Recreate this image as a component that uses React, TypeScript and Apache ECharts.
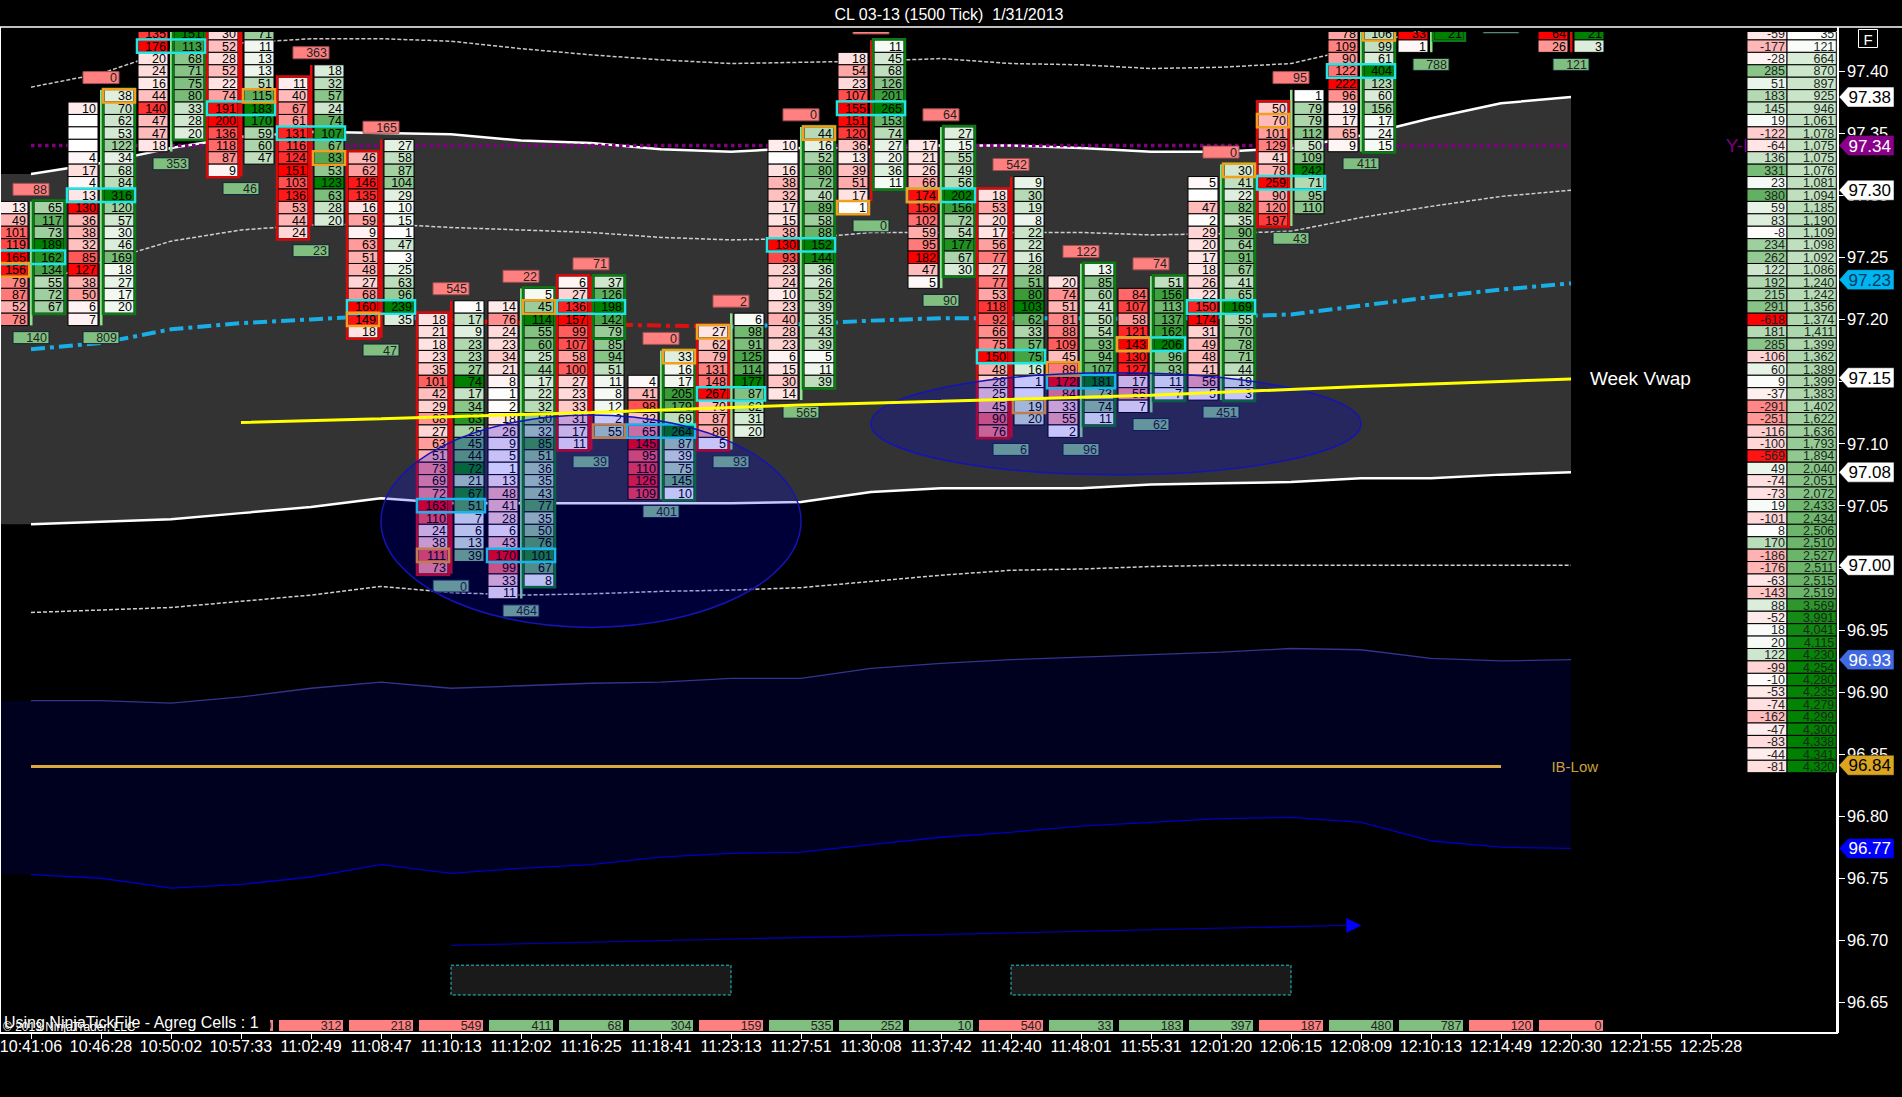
import React, { useEffect, useRef } from "react";
import * as echarts from "echarts";

const times = ["10:41:06","10:46:28","10:50:02","10:57:33","11:02:49","11:08:47","11:10:13","11:12:02","11:16:25","11:18:41","11:23:13","11:27:51","11:30:08","11:37:42","11:42:40","11:48:01","11:55:31","12:01:20","12:06:15","12:08:09","12:10:13","12:14:49","12:20:30","12:21:55","12:25:28"];
const priceTicks = [96.65,96.7,96.75,96.8,96.85,96.9,96.95,97,97.05,97.1,97.15,97.2,97.25,97.3,97.35,97.4];

const bidTop = [97.29,97.37,97.43,97.43,97.39,97.33,97.20,97.21,97.23,97.15,97.19,97.34,97.41,97.34,97.30,97.23,97.22,97.31,97.37,97.43,97.43,97.45,97.43];
const askTop = [97.29,97.38,97.43,97.43,97.40,97.34,97.21,97.22,97.23,97.17,97.20,97.35,97.42,97.35,97.31,97.24,97.23,97.32,97.38,97.43,97.43,97.45,97.43];

const bids0 = [13,49,101,119,165,156,79,87,52,78];
const asks0 = [65,117,73,189,162,134,55,72,67];
const bids1 = [10,null,null,null,4,17,4,13,130,36,38,32,85,127,38,50,6,7];
const asks1 = [38,70,62,53,122,34,68,84,316,120,57,30,46,169,18,27,17,20];
const bids2 = [135,176,20,24,16,44,140,47,47,18];
const asks2 = [151,113,68,71,75,80,33,28,20];
const bids3 = [30,52,28,52,22,74,191,200,136,118,87,9];
const asks3 = [71,11,13,13,51,115,183,170,59,60,47];
const bids4 = [11,40,67,61,131,116,124,151,103,136,53,44,24];
const asks4 = [18,32,57,24,74,107,67,83,53,123,63,28,20];
const bids5 = [46,62,146,135,16,59,9,63,51,48,27,68,160,149,18];
const asks5 = [27,58,87,104,29,10,15,1,47,3,25,63,96,239,35];
const bids6 = [18,21,18,23,35,101,42,29,68,27,63,51,73,69,72,163,110,24,38,111,73];
const asks6 = [1,17,9,23,23,27,74,17,34,63,25,45,44,72,21,67,51,7,6,13,39];
const bids7 = [14,76,24,23,34,21,8,1,2,18,26,9,5,1,13,48,41,28,6,43,170,99,33,11];
const asks7 = [5,45,114,55,60,25,44,17,22,32,50,32,85,51,36,35,43,77,35,50,76,101,67,8];
const bids8 = [6,27,136,157,99,107,58,100,27,23,33,31,17,11];
const asks8 = [37,126,198,142,79,85,94,51,11,8,12,2,55];
const bids9 = [4,41,98,32,65,145,95,110,126,109];
const asks9 = [33,16,17,205,179,69,264,87,39,75,145,10];
const bids10 = [27,62,79,131,148,267,70,87,86,5];
const asks10 = [6,98,91,125,114,177,87,62,31,20];
const bids11 = [10,null,16,38,32,17,15,38,130,93,23,24,10,23,40,28,23,6,15,30,14];
const asks11 = [44,16,52,80,72,40,89,58,88,152,144,36,26,52,39,35,43,39,5,11,39];
const bids12 = [18,54,23,107,155,151,120,36,13,39,51,17,1];
const asks12 = [11,45,68,126,201,265,153,74,27,20,36,11];
const bids13 = [17,21,26,66,174,156,102,59,95,182,47,5];
const asks13 = [27,15,55,49,56,202,156,72,54,177,67,30];
const bids14 = [18,53,20,17,56,77,27,77,53,118,92,66,75,150,48,28,25,45,90,76];
const asks14 = [9,30,19,8,22,22,16,28,51,80,103,62,33,57,75,16,1,null,19,20];
const bids15 = [20,74,51,81,88,109,45,89,172,84,33,55,2];
const asks15 = [13,85,60,41,50,54,93,94,107,181,73,74,11];
const bids16 = [84,107,58,121,143,130,127,17,55,7];
const asks16 = [51,156,113,137,162,206,96,93,11,7];
const bids17 = [5,null,47,2,29,20,17,18,26,22,150,174,31,49,48,41,56,5];
const asks17 = [30,41,22,82,35,90,64,91,67,41,65,169,55,70,78,71,44,19,3];
const bids18 = [50,70,101,129,41,78,259,90,120,197];
const asks18 = [1,79,79,112,50,109,242,71,95,110];
const bids19 = [78,109,90,122,222,96,19,17,65,9];
const asks19 = [106,99,61,404,123,60,156,17,24,15];
const bids20 = [33,1];
const asks20 = [21];
const bids21 = [12];
const asks21 = [12];
const bids22 = [64,26];
const asks22 = [21,3];
const allBids = [bids0,bids1,bids2,bids3,bids4,bids5,bids6,bids7,bids8,bids9,bids10,bids11,bids12,bids13,bids14,bids15,bids16,bids17,bids18,bids19,bids20,bids21,bids22];
const allAsks = [asks0,asks1,asks2,asks3,asks4,asks5,asks6,asks7,asks8,asks9,asks10,asks11,asks12,asks13,asks14,asks15,asks16,asks17,asks18,asks19,asks20,asks21,asks22];

const highBoxes = [88,0,null,null,363,165,545,22,71,0,2,0,92,64,542,122,74,0,95,null,null,null,null];
const lowBoxes = [140,809,353,46,23,47,0,464,39,401,93,565,0,90,6,96,62,451,43,411,788,0,121];
const bottomCats = [3,4,5,6,7,8,9,10,11,12,13,14,15,16,17,18,19,20,21,22];
const bottomValues = [0,312,218,549,411,68,304,159,535,252,10,540,33,183,397,187,480,787,120,0];
const bottomSigns = [0,0,0,0,1,1,1,0,1,1,1,0,1,1,1,0,1,1,0,0];

const pocPrices = [97.25,97.30,97.42,97.37,97.35,97.21,97.05,97.01,97.21,97.11,97.14,97.26,97.37,97.30,97.17,97.15,97.18,97.21,97.31,97.40];
const orangeSides = [0,1,-1,1,1,0,0,1,1,1,0,1,0,0,1,0,0,1,0,1];
const orangePrices = [97.24,97.38,0,97.38,97.33,97.20,97.01,97.21,97.11,97.17,97.19,97.35,97.29,97.30,97.13,97.16,97.18,97.32,97.36,97.43];

const wickCats = [0,1,2,3,4,5,6,7,8,9,10,11,12,13,14,15,16,17,18,19,20,22];
const wickHigh = [97.29,97.38,97.43,97.43,97.40,97.34,97.21,97.22,97.23,97.17,97.20,97.35,97.42,97.35,97.31,97.24,97.23,97.32,97.38,97.43,97.43,97.43];
const wickLow = [97.20,97.20,97.34,97.32,97.28,97.19,97.00,96.98,97.10,97.06,97.10,97.14,97.30,97.23,97.11,97.11,97.13,97.14,97.28,97.34,97.42,97.42];
const wickUp = [1,1,1,0,0,0,0,1,0,1,1,1,0,1,0,1,1,1,1,1,1,0];

const outlineCats = [0,1,2,3,4,5,6,7,8,8,9,10,11,12,13,14,15,16,17,18,19,20];
const outlineSides = [1,1,1,0,0,0,0,1,0,1,1,0,1,1,1,0,1,1,1,0,1,1];
const outlineHigh = [97.29,97.38,97.43,97.43,97.39,97.33,97.20,97.22,97.23,97.23,97.17,97.19,97.35,97.42,97.35,97.30,97.24,97.23,97.32,97.37,97.43,97.43];
const outlineLow = [97.21,97.21,97.35,97.32,97.27,97.19,97.00,96.99,97.10,97.19,97.06,97.10,97.15,97.31,97.24,97.11,97.12,97.14,97.14,97.28,97.34,97.43];

const profilePrices = [97.43,97.42,97.41,97.40,97.39,97.38,97.37,97.36,97.35,97.34,97.33,97.32,97.31,97.30,97.29,97.28,97.27,97.26,97.25,97.24,97.23,97.22,97.21,97.20,97.19,97.18,97.17,97.16,97.15,97.14,97.13,97.12,97.11,97.10,97.09,97.08,97.07,97.06,97.05,97.04,97.03,97.02,97.01,97.00,96.99,96.98,96.97,96.96,96.95,96.94,96.93,96.92,96.91,96.90,96.89,96.88,96.87,96.86,96.85,96.84];
const profileDelta = [-59,-177,-28,285,51,183,145,19,-122,-64,136,331,23,380,59,83,-8,234,262,122,192,215,291,-618,181,285,-106,60,9,-37,-291,-251,-116,-100,-569,49,-74,-73,19,-101,8,170,-186,-176,-63,-143,88,-52,18,20,122,-99,-10,-53,-74,-162,-47,-83,-44,-81];
const profileVolume = [35,121,664,870,897,925,946,1061,1078,1075,1075,1076,1081,1094,1185,1190,1109,1098,1092,1086,1240,1242,1356,1374,1411,1399,1362,1389,1399,1383,1402,1622,1636,1793,1894,2040,2051,2072,2433,2434,2506,2510,2527,2511,2515,2519,3569,3991,4041,4115,4230,4254,4280,4235,4279,4299,4300,4338,4341,4320];

const upperThin = [97.387,97.398,97.417,97.4225,97.426,97.426,97.424,97.418,97.413,97.409,97.406,97.407,97.408,97.410,97.406,97.405,97.402,97.403,97.406,97.419,97.435,97.445,97.451];
const upperSolid = [97.317,97.326,97.338,97.347,97.351,97.350,97.349,97.344,97.342,97.337,97.335,97.338,97.339,97.340,97.340,97.338,97.335,97.335,97.338,97.348,97.362,97.374,97.379];
const upperMid = [97.228,97.246,97.263,97.272,97.276,97.277,97.274,97.272,97.270,97.266,97.264,97.265,97.270,97.270,97.270,97.270,97.268,97.269,97.271,97.282,97.291,97.299,97.304];
const vwap = [97.176,97.181,97.192,97.197,97.200,97.203,97.199,97.197,97.196,97.195,97.194,97.196,97.199,97.201,97.201,97.201,97.200,97.202,97.204,97.211,97.218,97.224,97.229];
const lowerSolid = [97.035,97.037,97.039,97.044,97.049,97.056,97.052,97.052,97.052,97.052,97.052,97.053,97.061,97.064,97.064,97.064,97.067,97.068,97.069,97.072,97.072,97.075,97.077];
const lowerThin = [96.964,96.966,96.968,96.973,96.978,96.985,96.980,96.978,96.979,96.981,96.982,96.984,96.989,96.994,96.998,96.999,97.001,97.002,97.002,97.002,97.002,97.002,97.002];
const navyTop = [96.893,96.893,96.891,96.896,96.903,96.908,96.903,96.905,96.907,96.908,96.911,96.911,96.919,96.923,96.926,96.928,96.930,96.932,96.935,96.934,96.927,96.925,96.926];
const navyBottom = [96.753,96.750,96.742,96.745,96.751,96.761,96.754,96.758,96.761,96.767,96.770,96.771,96.777,96.783,96.787,96.792,96.795,96.798,96.799,96.795,96.780,96.775,96.774];
const weekVwapCats = [3,5,8,11,13,16,19,22];
const weekVwapPrices = [97.117,97.120,97.125,97.131,97.134,97.139,97.146,97.152];

const flagPrices = [97.379,97.34,97.304,97.232,97.153,97.077,97.002,96.926,96.841,96.774];
const flagFills = ["#ffffff","#8b008b","#ffffff","#00b4f0","#ffffff","#ffffff","#ffffff","#4169e1","#daa520","#0000ff"];
const flagInks = ["#000000","#ffffff","#000000","#003a60","#000000","#000000","#000000","#ffffff","#000000","#ffffff"];

const X_MIN = -0.5;
const X_MAX = 25.8;
const SHIFT = 4;
const Y_MIN = 96.6254;
const Y_MAX = 97.4314;
const ROW = 0.01;
const FONT = '"Liberation Sans", Arial, sans-serif';
const CELL_FONT = 12.5;

function redOf(t: number) { const c = Math.round(255 * (1 - Math.min(1, t))); return `rgb(255,${c},${c})`; }
function greenOf(t: number) { const k = Math.min(1, t); const c = Math.round(255 * (1 - k)); return `rgb(${c},${Math.round(255 - 127 * k)},${c})`; }
const maxOf = (a: (number | null)[]) => Math.max(1, ...a.map((v) => v ?? 0));

const cellRows: number[][] = [];
allBids.forEach((list, cat) => {
  const m = maxOf(list);
  list.forEach((v, i) => cellRows.push([cat, +(bidTop[cat] - i * ROW).toFixed(2), v ?? -1, 0, (v ?? 0) / m]));
});
allAsks.forEach((list, cat) => {
  const m = maxOf(list);
  list.forEach((v, i) => cellRows.push([cat, +(askTop[cat] - i * ROW).toFixed(2), v ?? -1, 1, (v ?? 0) / m]));
});

const barHigh = (c: number) => Math.max(bidTop[c], askTop[c]);
const barLow = (c: number) => Math.min(bidTop[c] - (allBids[c].length - 1) * ROW, askTop[c] - (allAsks[c].length - 1) * ROW);
const boxRows: number[][] = [];
highBoxes.forEach((v, c) => { if (v !== null) boxRows.push([c, barHigh(c) + 1.47 * ROW, v, 0, 0]); });
lowBoxes.forEach((v, c) => { if (v !== null) boxRows.push([c, barLow(c) - 1.47 * ROW, v, 1, 0]); });
bottomCats.forEach((c, i) => boxRows.push([c, 96.6315, bottomValues[i], bottomSigns[i], 1]));

const txt = (x: number, y: number, text: string, fill: string, size: number, align = "right") => ({
  type: "text",
  style: { x, y, text, fill, font: `${size}px ${FONT}`, textAlign: align, textVerticalAlign: "middle" },
});

function renderCell(_: any, api: any) {
  const cat = api.value(0), price = api.value(1), val = api.value(2), side = api.value(3), t = api.value(4);
  const [x, y] = api.coord([cat, price]);
  const h = api.size([0, ROW])[1];
  const x0 = side === 0 ? x - 33 : x + 3;
  const w = 30;
  const children: any[] = [{
    type: "rect",
    shape: { x: x0, y: y - h / 2, width: w, height: h },
    style: { fill: side === 0 ? redOf(t) : greenOf(t), stroke: "#000", lineWidth: 1 },
  }];
  if (val >= 0) children.push(txt(x0 + w - 2, y + 0.5, String(val), "#000", CELL_FONT));
  return { type: "group", children };
}
function renderBox(_: any, api: any) {
  const [x, y] = api.coord([api.value(0), api.value(1)]);
  const v = api.value(2), up = api.value(3) === 1;
  const wide = api.value(4) === 1;
  const hw = wide ? 32.5 : 18;
  return {
    type: "group",
    children: [
      { type: "rect", shape: { x: x - hw, y: y - 6, width: hw * 2, height: 12 },
        style: { fill: up ? "#80bf80" : "#ff8080", stroke: wide ? "#000" : up ? "#123" : "#a05050", lineWidth: 1 } },
      txt(x + hw - 2, y + 0.5, String(v), "#222", CELL_FONT),
    ],
  };
}
function renderWick(_: any, api: any) {
  const [x, y1] = api.coord([api.value(0), api.value(1)]);
  const [, y2] = api.coord([api.value(0), api.value(2)]);
  return { type: "rect", shape: { x: x - 1, y: y1 - 6, width: 2.5, height: y2 - y1 + 12 },
    style: { fill: api.value(3) === 1 ? "#8fe28f" : "#e00d0d" } };
}
function renderOutline(_: any, api: any) {
  const [x, y1] = api.coord([api.value(0), api.value(2)]);
  const [, y2] = api.coord([api.value(0), api.value(3)]);
  const side = api.value(1);
  const x0 = side === 0 ? x - 33 : x + 3;
  return { type: "rect", shape: { x: x0 - 1, y: y1 - 7, width: 32, height: y2 - y1 + 14 },
    style: { fill: "none", stroke: side === 0 ? "#d40a0a" : "#0c7a14", lineWidth: 2.5 } };
}
function renderPoc(_: any, api: any) {
  const [x, y] = api.coord([api.value(0), api.value(1)]);
  return { type: "rect", shape: { x: x - 34, y: y - 6.7, width: 68, height: 13.4 },
    style: { fill: "none", stroke: "#22e6e6", lineWidth: 2.5 } };
}
function renderOrange(_: any, api: any) {
  const [x, y] = api.coord([api.value(0), api.value(1)]);
  const x0 = api.value(2) === 0 ? x - 34 : x + 2;
  return { type: "rect", shape: { x: x0, y: y - 6.7, width: 32, height: 13.4 },
    style: { fill: "none", stroke: "#f0a020", lineWidth: 2.5 } };
}
const PROFILE_A = 24.514, PROFILE_B = 25.086, PROFILE_C = 25.79;
function renderProfile(_: any, api: any) {
  const price = api.value(0), delta = api.value(1), vol = api.value(2);
  const [xa, y] = api.coord([PROFILE_A, price]);
  const [xb] = api.coord([PROFILE_B, price]);
  const [xc] = api.coord([PROFILE_C, price]);
  const h = api.size([0, ROW])[1];
  const t = Math.abs(delta) / 618;
  return {
    type: "group",
    children: [
      { type: "rect", shape: { x: xa, y: y - h / 2, width: xb - xa, height: h },
        style: { fill: delta < 0 ? redOf(t) : greenOf(t), stroke: "#000", lineWidth: 1 } },
      txt(xb - 2, y + 0.5, String(delta), "#222", CELL_FONT),
      { type: "rect", shape: { x: xb, y: y - h / 2, width: xc - xb, height: h },
        style: { fill: greenOf(vol / 4341), stroke: "#000", lineWidth: 1 } },
      txt(xc - 2, y + 0.5, vol.toLocaleString("en-US"), "#1a2a1a", CELL_FONT),
    ],
  };
}
function renderFlag(_: any, api: any) {
  const i = api.value(0), price = api.value(1);
  const [ax, y] = api.coord([X_MAX, price]);
  const x = ax + 1;
  return {
    type: "group",
    children: [
      { type: "polygon", shape: { points: [[x + 1, y], [x + 10, y - 10], [x + 56, y - 10], [x + 56, y + 10], [x + 10, y + 10]] },
        style: { fill: flagFills[i], stroke: "#000", lineWidth: 0.5 } },
      txt(x + 53, y + 0.5, price.toFixed(2), flagInks[i], 17),
    ],
  };
}
function polyThrough(api: any, top: number[], bottom: number[], fill: string) {
  const cats = [X_MIN, ...top.map((_, i) => i)];
  const t = [top[0], ...top], b = [bottom[0], ...bottom];
  const pts: number[][] = cats.map((c, i) => api.coord([c, t[i]]));
  for (let i = cats.length - 1; i >= 0; i--) pts.push(api.coord([cats[i], b[i]]));
  return { type: "polygon", shape: { points: pts }, style: { fill } };
}
function renderBands(_: any, api: any) {
  return { type: "group", children: [
    polyThrough(api, upperSolid, lowerSolid, "#333333"),
    polyThrough(api, navyTop, navyBottom, "#00001f"),
  ] };
}
const darkBoxes = [[6, 10], [14, 18]];
function renderDarkBox(_: any, api: any) {
  const [x1, y1] = api.coord([api.value(0), 96.680]);
  const [x2, y2] = api.coord([api.value(1), 96.656]);
  return { type: "rect", shape: { x: x1, y: y1, width: x2 - x1, height: y2 - y1 },
    style: { fill: "#1a1a1a", stroke: "#25c8c8", lineWidth: 1, lineDash: [3, 2] } };
}
const ellipses = [[5, 11, 97.123, 96.952], [12, 19, 97.157, 97.075]];
function renderEllipse(_: any, api: any) {
  const [x1, y1] = api.coord([api.value(0), api.value(2)]);
  const [x2, y2] = api.coord([api.value(1), api.value(3)]);
  return { type: "ellipse", shape: { cx: (x1 + x2) / 2, cy: (y1 + y2) / 2, rx: (x2 - x1) / 2, ry: (y2 - y1) / 2 },
    style: { fill: "rgba(0,0,255,0.22)", stroke: "#1414b4", lineWidth: 1.5 } };
}
function renderArrowHead(_: any, api: any) {
  const [x, y] = api.coord([18.79, 96.712]);
  return { type: "polygon", shape: { points: [[x, y - 7.5], [x + 15, y], [x, y + 7.5]] }, style: { fill: "#0000ff" } };
}
const notes: [number, number, string, string, number][] = [
  [22.27, 97.152, "Week Vwap", "#ffffff", 19],
  [21.72, 96.84, "IB-Low", "#c9a03a", 15],
  [24.21, 97.34, "Y-L", "#800080", 19],
];
function renderNote(_: any, api: any) {
  const n = notes[api.value(0)];
  const [x, y] = api.coord([n[0], n[1]]);
  return txt(x, y, n[2], n[3], n[4], "left");
}

const lineOf = (name: string, values: any[], color: string, width: number, type: any, z: number) => ({
  type: "line", name, data: values.map((v, i) => [i, v]), symbol: "none", silent: true, z, clip: true,
  connectNulls: false, lineStyle: { color, width, type }, emphasis: { disabled: true },
});
const custom = (name: string, data: any[], renderItem: any, z: number, clip = true) => ({
  type: "custom", name, data, renderItem, z, clip, silent: true,
});

export default function App() {
  const ref = useRef<HTMLDivElement>(null);
  useEffect(() => {
    const chart = echarts.init(ref.current!, undefined, { renderer: "svg" });
    const blue = vwap.map((v, i) => (i > 6 && i < 10 ? null : v));
    const red = vwap.map((v, i) => (i >= 6 && i <= 10 ? v : null));
    chart.setOption({
      animation: false,
      backgroundColor: "#000000",
      title: {
        text: "CL 03-13 (1500 Tick)  1/31/2013", left: 944 + SHIFT, top: 1, textAlign: "center",
        textStyle: { color: "#ffffff", fontSize: 16, fontWeight: "normal", fontFamily: FONT },
      },
      grid: { left: 0, top: 32, width: 1841, height: 1001, containLabel: false },
      xAxis: {
        type: "value", min: X_MIN, max: X_MAX, splitLine: { show: false },
        axisLine: { show: true, onZero: false, lineStyle: { color: "#ffffff", width: 2 } },
        axisTick: { show: true, length: 6, inside: false, customValues: times.map((_, i) => i), lineStyle: { color: "#ffffff", width: 1 } },
        axisLabel: {
          color: "#ffffff", fontSize: 16, fontFamily: FONT, margin: 5, hideOverlap: false,
          customValues: times.map((_, i) => i),
          formatter: (v: number) => times[Math.round(v)] ?? "",
        },
      },
      yAxis: {
        type: "value", position: "right", min: Y_MIN, max: Y_MAX, splitLine: { show: false },
        axisLine: { show: true, onZero: false, lineStyle: { color: "#ffffff", width: 2 } },
        axisTick: { show: true, length: 8, customValues: priceTicks, lineStyle: { color: "#ffffff", width: 1 } },
        axisLabel: {
          color: "#ffffff", fontSize: 16.5, fontFamily: FONT, margin: 10, hideOverlap: false,
          customValues: priceTicks, formatter: (v: number) => v.toFixed(2),
        },
      },
      series: [
        custom("bands", [[0, 0]], renderBands, 1),
        lineOf("upper thin", upperThin, "#c8c8c8", 1.5, [4, 2], 2),
        lineOf("upper band", upperSolid, "#ffffff", 2.5, "solid", 2),
        lineOf("upper mid", upperMid, "#d0d0d0", 1.5, [4, 2], 2),
        lineOf("lower band", lowerSolid, "#ffffff", 2.5, "solid", 2),
        lineOf("lower thin", lowerThin, "#d0d0d0", 1.5, [4, 2], 2),
        lineOf("navy top", navyTop, "#34348c", 1.3, "solid", 2),
        lineOf("navy bottom", navyBottom, "#0000c0", 1.3, "solid", 2),
        lineOf("vwap", blue, "#19aee6", 4, [14, 5, 4, 5], 2),
        lineOf("vwap down", red, "#e01010", 4, [14, 5, 4, 5], 2),
        lineOf("y-low", upperThin.map(() => 97.34), "#800080", 3.5, [3.5, 3.5], 2),
        { ...lineOf("ib-low", times.slice(0, 22).map(() => 96.84), "#daa83c", 3, "solid", 2) },
        custom("dark boxes", darkBoxes, renderDarkBox, 3),
        custom("wicks", wickCats.map((c, i) => [c, wickHigh[i], wickLow[i], wickUp[i]]), renderWick, 4),
        custom("cells", cellRows, renderCell, 5),
        custom("outlines", outlineCats.map((c, i) => [c, outlineSides[i], outlineHigh[i], outlineLow[i]]), renderOutline, 5.1),
        custom("poc", pocPrices.map((p, c) => [c, p]), renderPoc, 5.2),
        custom("imbalance", orangeSides.map((s, c) => [c, orangePrices[c], s]).filter((r) => r[2] >= 0), renderOrange, 5.3),
        custom("boxes", boxRows, renderBox, 5.4),
        custom("profile", profilePrices.map((p, i) => [p, profileDelta[i], profileVolume[i]]), renderProfile, 5.5),
        custom("notes", notes.map((_, i) => [i]), renderNote, 5.45),
        custom("ellipses", ellipses, renderEllipse, 6),
        {
          type: "line", name: "week vwap", data: weekVwapCats.map((c, i) => [c, weekVwapPrices[i]]), symbol: "none", silent: true, z: 7,
          lineStyle: { color: "#ffff00", width: 3 },
        },
        {
          type: "line", name: "arrow", data: [[6, 96.696], [18.79, 96.712]], symbol: "none", silent: true, z: 7,
          lineStyle: { color: "#0000a8", width: 1.3 },
        },
        custom("arrow head", [[0]], renderArrowHead, 7),
        custom("flags", flagPrices.map((p, i) => [i, p]), renderFlag, 8, false),
      ],
      graphic: { elements: [
        { type: "line", z: 50, shape: { x1: SHIFT, y1: 27, x2: 1906, y2: 27 }, style: { stroke: "#ffffff", lineWidth: 1.5 } },
        { type: "line", z: 50, shape: { x1: SHIFT + 0.5, y1: 27, x2: SHIFT + 0.5, y2: 1033 }, style: { stroke: "#ffffff", lineWidth: 1 } },
        { type: "line", z: 50, shape: { x1: 1838 + SHIFT, y1: 27, x2: 1838 + SHIFT, y2: 1033 }, style: { stroke: "#ffffff", lineWidth: 2 } },
        { type: "rect", z: 60, shape: { x: 1858.5 + SHIFT, y: 29.5, width: 19, height: 18 }, style: { fill: "#000", stroke: "#ffffff", lineWidth: 1 } },
        { type: "text", z: 61, x: 1868 + SHIFT, y: 39, style: { text: "F", fill: "#ffffff", font: `15px ${FONT}`, textAlign: "center", textVerticalAlign: "middle" } },
        { type: "rect", z: 60, shape: { x: 1 + SHIFT, y: 1016, width: 269, height: 16 }, style: { fill: "#000000" } },
        { type: "text", z: 61, x: 4 + SHIFT, y: 1022, style: { text: "Using NinjaTickFile - Agreg Cells : 1", fill: "#ffffff", font: `16px ${FONT}`, textVerticalAlign: "middle" } },
        { type: "text", z: 62, x: 3 + SHIFT, y: 1027, style: { text: "\u00a9 2013 NinjaTrader, LLC", fill: "#ffffff", font: `12px ${FONT}`, textVerticalAlign: "middle" } },
      ] },
    });
    return () => chart.dispose();
  }, []);
  return <div ref={ref} style={{ position: "fixed", left: -SHIFT, top: 0, width: 1902 + SHIFT, height: 1097, background: "#000" }} />;
}
